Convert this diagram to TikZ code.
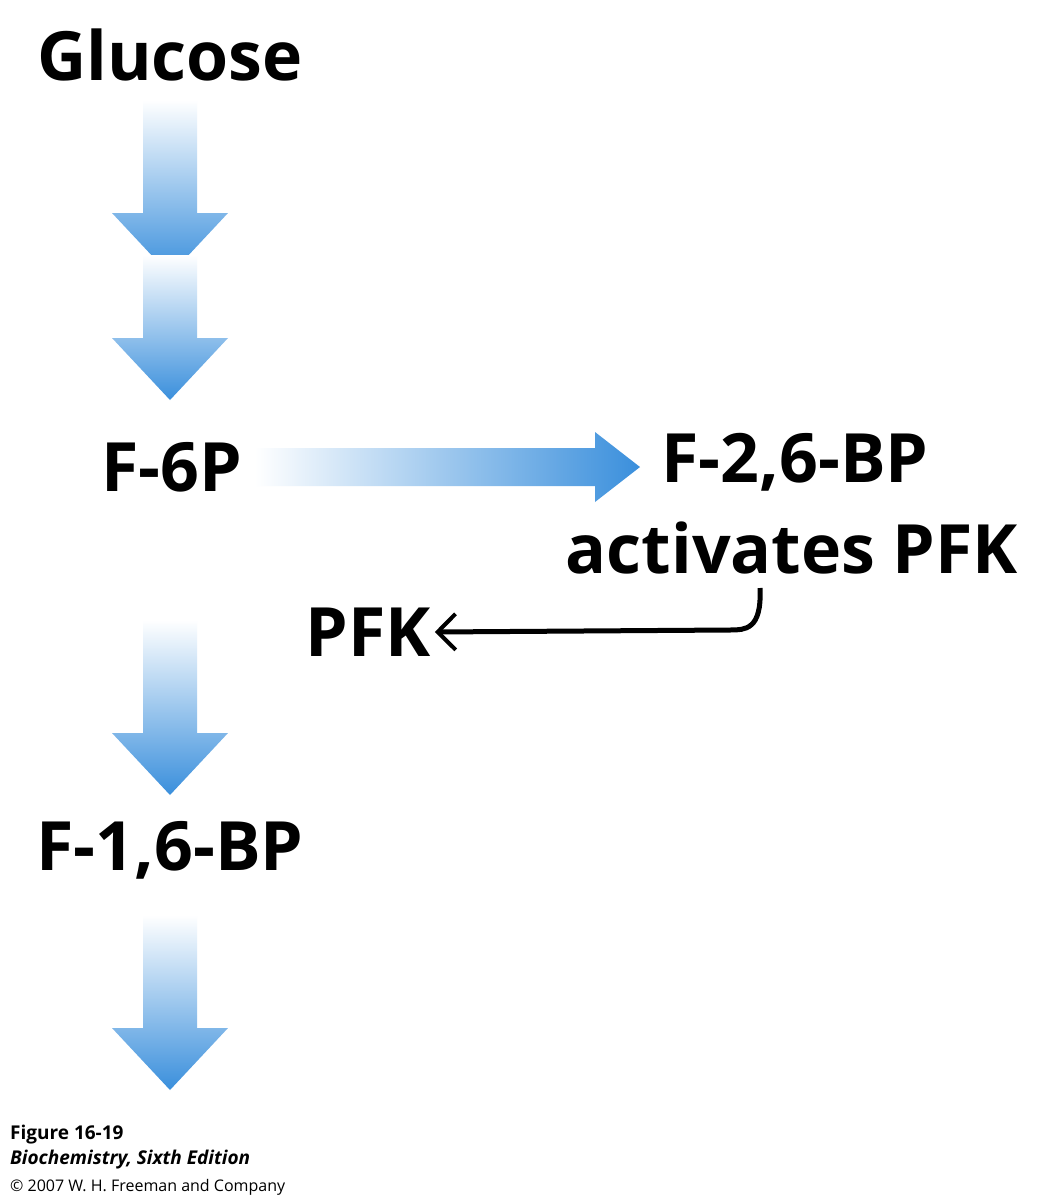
\documentclass[tikz,border=0pt]{standalone}
\usepackage{fontspec}
\setmainfont{Open Sans}
\usetikzlibrary{arrows.meta}
\definecolor{arrblue}{HTML}{3A8FDC}
\tikzset{lbl/.style={font=\fontsize{68}{72}\selectfont\bfseries, inner sep=0pt},
captxt/.style={inner sep=0pt, anchor=west}}
\newcommand{\vfat}[3]{% x, top, bottom
 \shade[top color=white, bottom color=arrblue] (#1-27,#2) -- (#1+27,#2) -- (#1+27,#3-62) -- (#1+58,#3-62) -- (#1,#3) -- (#1-58,#3-62) -- (#1-27,#3-62) -- cycle;}
\begin{document}
\begin{tikzpicture}[x=1pt,y=-1pt]
\useasboundingbox (0,0) rectangle (1046,1200);
\fill[white] (0,0) rectangle (1046,1200);
\vfat{170}{100}{275}
\vfat{170}{255}{400}
\vfat{170}{620}{795}
\vfat{170}{915}{1090}
\shade[left color=white, right color=arrblue] (255,448) -- (595,448) -- (595,432) -- (640,467) -- (595,502) -- (595,486) -- (255,486) -- cycle;
\node[lbl] (glc) at (170,55) {Glucose};
\node[lbl] (f6p) at (172,467) {F-6P};
\node[lbl] (f26) at (795,462) {F-2,6-BP};
\node[lbl] (act) at (792,548) {activates PFK};
\node[lbl] (pfk) at (368,632) {PFK};
\node[lbl] (f16) at (170,850) {F-1,6-BP};
\draw[line width=5pt, -{Straight Barb[length=18pt,width=36pt,line width=4pt]}] (760,588) .. controls (762,630) and (745,630) .. (730,630) -- ([xshift=4pt]pfk.east);
\node[captxt, font=\fontsize{19}{21}\selectfont\bfseries] (c1) at (10,1135) {Figure 16-19};
\node[captxt, font=\fontsize{19}{21}\selectfont\itshape\bfseries] (c2) at (10,1160) {Biochemistry, Sixth Edition};
\node[captxt, font=\fontsize{16}{18}\selectfont] (c3) at (10,1187) {© 2007 W. H. Freeman and Company};
\end{tikzpicture}
\end{document}
